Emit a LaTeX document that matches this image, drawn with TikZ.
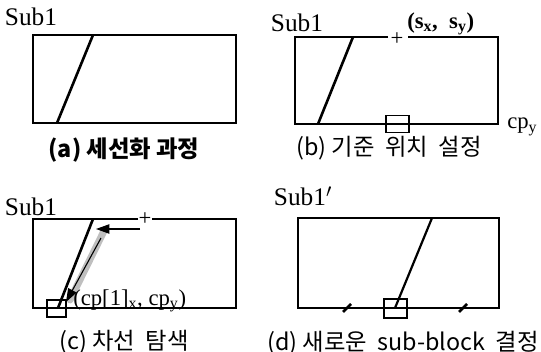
\documentclass[tikz,border=0pt]{standalone}
\usepackage{fontspec}
\setmainfont{Liberation Serif}
\newfontfamily\kr{Noto Sans CJK KR}
\usetikzlibrary{arrows.meta}
\tikzset{
  frame/.style={line width=1.3pt*0.75},
  slant/.style={line width=2.6pt*0.75},
  marker/.style={line width=1.1pt*0.75},
  lbl/.style={inner sep=0pt, font=\fontsize{19}{21}\selectfont},
  small/.style={inner sep=0pt, font=\fontsize{17}{19}\selectfont},
  plus/.style={inner sep=0pt, font=\fontsize{17}{17}\selectfont},
  captxt/.style={inner sep=0pt, font=\kr\fontsize{17.5}{19}\selectfont},
  arr/.style={line width=1.1pt*0.75, -{Triangle[length=10pt,width=7pt]}},
  tick/.style={line width=2.6pt*0.75},
}
\begin{document}
\begin{tikzpicture}[x=0.75pt,y=-0.75pt]
\useasboundingbox (0,0) rectangle (541,352);
% ---------- (a)
\node[lbl] (sa) at (31,17) {Sub1};
\coordinate (a1) at (33,35); \coordinate (a2) at (236,123);
\draw[frame] (a1) rectangle (a2);
\coordinate (at) at (93,35); \coordinate (ab) at (57,123);
\draw[slant] (at) -- (ab);
\node[captxt, font=\kr\bfseries\fontsize{17.5}{19}\selectfont] (ca) at (124,150) {(a) 세선화 과정};
% ---------- (b)
\node[lbl] (sb) at (297,23) {Sub1};
\coordinate (b1) at (295,37); \coordinate (b2) at (498,124);
\coordinate (bg1) at (388,37); \coordinate (bg2) at (408,37);
\draw[frame] (bg1) -- (b1 |- bg1) -- (b1) |- (b2) |- (bg2);
\node[plus] (pb) at (397,39) {+};
\node[small, anchor=west, font=\bfseries\fontsize{17}{19}\selectfont] (sxy) at (407,24) {(s\textsubscript{x},~ s\textsubscript{y})};
\draw[slant] (353,37) -- (318,124);
\node[draw, marker, minimum width=23*0.75pt, minimum height=17*0.75pt, inner sep=0pt] (boxb) at (397.5,124) {};
\node[small, anchor=west] (cpy) at (507,127) {cp\textsubscript{y}};
\node[captxt] (cb) at (389,148) {(b) 기준~ 위치~ 설정};
% ---------- (c)
\node[lbl] (sc) at (31,207) {Sub1};
\coordinate (c1) at (33,219); \coordinate (c2) at (236,308);
\coordinate (cg1) at (138,219); \coordinate (cg2) at (152,219);
\draw[frame] (cg1) -- (c1 |- cg1) -- (c1) |- (c2) |- (cg2);
\node[plus] (pc) at (145,219) {+};
\coordinate (ct) at (93,219); \coordinate (cb0) at (58,308);
\draw[black!25, line width=7pt*0.75, line cap=round] (104,231) -- (70,300);
\draw[slant] (ct) -- (cb0);
\coordinate (h1) at (140,229); \coordinate (h2) at (96,229);
\draw[arr] (h1) -- (h2);
\coordinate (d1) at (101,238); \coordinate (d2) at (66,302);
\draw[arr] (d1) -- (d2);
\node[draw, marker, minimum width=19*0.75pt, minimum height=17*0.75pt, inner sep=0pt] (boxc) at (56.5,308.5) {};
\node[small, anchor=west] (cpl) at (73,301) {(cp[1]\textsubscript{x}, cp\textsubscript{y})};
\node[captxt] (cc) at (124,342) {(c) 차선~ 탐색};
% ---------- (d)
\node[lbl] (sd) at (303,196) {Sub1$'$};
\coordinate (e1) at (298,218); \coordinate (e2) at (499,308);
\draw[frame] (e1) rectangle (e2);
\draw[slant, line width=2.2pt*0.75] (432,218) -- (395,308);
\node[draw, marker, minimum width=23*0.75pt, minimum height=19*0.75pt, inner sep=0pt] (boxd) at (395.5,308.5) {};
\coordinate (t1) at (347,308); \coordinate (t2) at (463,308);
\draw[tick] ([shift={(-4,4)}]t1) -- ([shift={(4,-4)}]t1);
\draw[tick] ([shift={(-4,4)}]t2) -- ([shift={(4,-4)}]t2);
\node[captxt] (cd) at (403,343) {(d) 새로운~ sub-block~ 결정};
\end{tikzpicture}
\end{document}
